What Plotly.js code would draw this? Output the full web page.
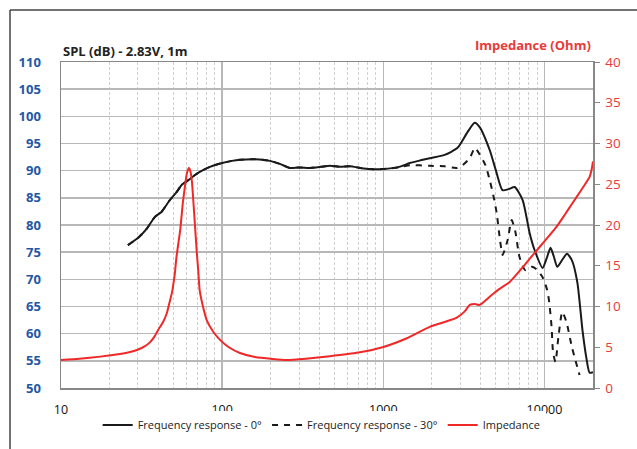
<!DOCTYPE html>
<html><head><meta charset="utf-8">
<script src="https://cdn.plot.ly/plotly-3.0.1.min.js"></script>
<style>body{margin:0;background:#fff}#c{width:637px;height:449px}</style>
</head><body><div id="c"></div>
<script>
// Frequency response 0°
const f0 = [26,30,34,38.3,42,47.4,52,56.2,62,67.8,75,84,100,115,129,160,198,230,263,300,350,410,466,540,620,720,824,1000,1254,1460,1700,1940,2400,2890,3330,3690,3960,4570,5000,5490,6000,6530,7320,8090,8680,9730,10300,10900,11400,12000,12900,13800,14800,16000,17200,18200,19050,20000];
const spl0 = [76.3,77.6,79.3,81.5,82.4,84.6,86.0,87.4,88.3,89.2,90.0,90.7,91.4,91.8,92.0,92.1,91.8,91.2,90.5,90.6,90.5,90.7,90.9,90.7,90.8,90.5,90.3,90.3,90.7,91.4,91.9,92.3,92.9,94.2,97.1,98.8,98.0,93.8,90.0,86.4,86.6,87.0,84.6,78.5,75.4,72.1,73.8,75.8,74.3,72.3,73.6,74.7,73.5,69.4,60.7,55.5,52.8,52.9];
// Frequency response 30°
const f30 = [26,30,34,38.3,42,47.4,52,56.2,62,67.8,75,84,100,115,129,160,198,230,263,300,350,410,466,540,620,720,824,1000,1254,1460,1940,2400,2840,3100,3440,3700,3960,4300,4570,4850,5050,5300,5500,5900,6260,6600,7000,7600,8300,8880,9730,10400,10700,11070,11300,11700,12200,12900,13700,14800,16500];
const spl30 = [76.3,77.6,79.3,81.5,82.4,84.6,86.0,87.4,88.3,89.2,90.0,90.7,91.4,91.8,92.0,92.1,91.8,91.2,90.5,90.6,90.5,90.7,90.9,90.7,90.8,90.5,90.3,90.3,90.6,91.0,90.9,90.8,90.5,91.0,92.3,94.2,93.0,91.0,88.3,85.0,82.2,77.2,74.5,77.2,80.9,78.7,74.1,71.7,72.3,71.9,70.4,68.0,65.8,61.2,56.6,54.8,59.4,64.0,62.1,57.5,52.4];
// Impedance
const fz = [10,13,17.5,22,26,29.6,33,35.6,38,40,43,45.4,47,48.8,50,50.9,52,55,57,59,60.5,62.2,63.5,65,67,69.6,71,72.5,76,80.3,88,97,110,129,160,206,251,330,465,700,990,1400,1940,2400,2840,3200,3440,3700,3960,4570,5200,6080,7320,8200,9330,10500,11900,13300,14930,16800,19050,19700,20000];
const zz = [3.44,3.6,3.85,4.1,4.35,4.66,5.1,5.6,6.3,7.1,8.1,9.2,10.4,11.7,13.0,14.1,16.0,19.5,22.7,25.0,26.4,27.0,26.6,25.2,21.5,16.6,14.5,12.0,10.0,8.3,6.9,5.9,5.0,4.3,3.8,3.56,3.44,3.6,3.9,4.35,5.0,6.1,7.5,8.1,8.6,9.4,10.2,10.3,10.2,11.2,12.1,13.0,14.8,16.0,17.3,18.5,19.8,21.2,22.7,24.2,25.9,27.0,27.8];

const traces = [
  {x:f0, y:spl0, name:'Frequency response - 0°', type:'scatter', mode:'lines', line:{color:'#1a1a1a', width:2, shape:'spline', smoothing:0.6}},
  {x:f30, y:spl30, name:'Frequency response - 30°', type:'scatter', mode:'lines', line:{color:'#1a1a1a', width:2, dash:'6px,6px', shape:'spline', smoothing:0.6}},
  {x:fz, y:zz, name:'Impedance', type:'scatter', mode:'lines', yaxis:'y2', line:{color:'#f02828', width:2, shape:'spline', smoothing:0.5}}
];

const font = 'Open Sans, Liberation Sans, sans-serif';
const layout = {
  width:637, height:449,
  margin:{l:61, r:44, t:62, b:61, autoexpand:false},
  paper_bgcolor:'#fff', plot_bgcolor:'#fff',
  showlegend:true,
  legend:{orientation:'h', x:0.49, xanchor:'center', yref:'container', y:1-425/449, yanchor:'middle', font:{family:font, size:11, color:'#222'}, itemwidth:30, tracegroupgap:0},
  xaxis:{type:'log', range:[1, Math.log10(20000)], tickvals:[10,100,1000,10000], ticktext:['10','100','1000','10000'],
    showgrid:true, gridcolor:'#b8b8b8', gridwidth:1.5, showline:true, linecolor:'#888', linewidth:1.5, mirror:true,
    ticks:'', ticklabelstandoff:9, tickfont:{family:font, size:12.5, color:'#111'}, automargin:false,
    minor:{tickvals:[20,30,40,50,60,70,80,90,200,300,400,500,600,700,800,900,2000,3000,4000,5000,6000,7000,8000,9000], showgrid:true, gridcolor:'#d0d0d0', griddash:'3px,2px', gridwidth:1},
    zeroline:false},
  yaxis:{range:[50,110], dtick:5, showgrid:true, gridcolor:'#b8b8b8', gridwidth:1.5, showline:true, linecolor:'#888', linewidth:1.5, automargin:false,
    ticks:'', ticklabelstandoff:16, tickfont:{family:font, size:13, color:'#2357a6', weight:'bold'}, zeroline:false},
  yaxis2:{range:[0,40], dtick:5, overlaying:'y', side:'right', showgrid:false, showline:true, linecolor:'#888', linewidth:1.5, automargin:false,
    ticks:'outside', ticklen:5, tickcolor:'#888', ticklabelstandoff:3, tickfont:{family:font, size:13.5, color:'#e83a3a'}, zeroline:false},
  annotations:[
    {xref:'paper', yref:'paper', x:0.0, y:1.0, xanchor:'left', yanchor:'bottom', showarrow:false, text:'<b>SPL (dB) - 2.83V, 1m</b>', font:{family:font, size:13, color:'#222'}},
    {xref:'paper', yref:'paper', x:1.0, y:1.018, xanchor:'right', yanchor:'bottom', showarrow:false, text:'<b>Impedance (Ohm)</b>', font:{family:font, size:13, color:'#e83a3a'}}
  ],
  shapes:[
    {type:'line', xref:'paper', yref:'paper', x0:-51/532, x1:(637-61)/532, y0:(388-10)/326, y1:(388-10)/326, line:{color:'#444', width:1.5}},
    {type:'line', xref:'paper', yref:'paper', x0:-51/532, x1:-51/532, y0:(388-10)/326, y1:(388-449)/326, line:{color:'#444', width:1.5}}
  ]
};
Plotly.newPlot('c', traces, layout, {displayModeBar:false, staticPlot:true});
</script></body></html>
